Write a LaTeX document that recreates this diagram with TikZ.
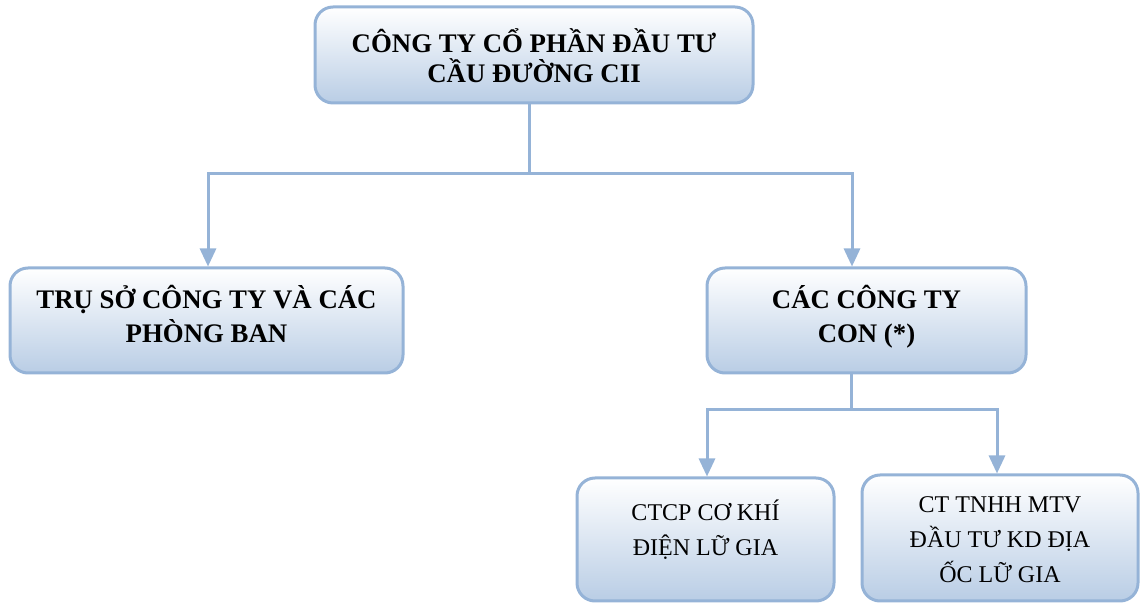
\documentclass[tikz,border=0pt]{standalone}
\usepackage{fontspec}
\setmainfont{Liberation Serif}
\usetikzlibrary{arrows.meta}
\definecolor{boxline}{RGB}{149,179,215}
\definecolor{boxfill}{RGB}{185,205,229}
\tikzset{
  unitbox/.style={draw=boxline,line width=1.5pt,rounded corners=9pt,top color=white,bottom color=boxfill,align=center,inner sep=0pt,text depth=0pt},
  bigtext/.style={font=\fontsize{13.4}{17}\selectfont\bfseries},
  smalltext/.style={font=\fontsize{12}{17.5}\selectfont},
  link/.style={draw=boxline,line width=1.5pt},
  conn/.style={link,-{Triangle[width=8pt,length=9pt]}}
}
\begin{document}
\begin{tikzpicture}[x=0.5pt,y=-0.5pt]
\useasboundingbox (0,0) rectangle (1141,603);
% cac don vi
\node[unitbox,font=\fontsize{13.4}{15}\selectfont\bfseries,minimum width=219pt,minimum height=48pt,text height=28pt] (congty) at (534,55) {CÔNG TY CỔ PHẦN ĐẦU TƯ\\CẦU ĐƯỜNG CII};
\node[unitbox,bigtext,minimum width=196.5pt,minimum height=52.5pt,text height=22.5pt] (truso) at (206.5,320.5) {TRỤ SỞ CÔNG TY VÀ CÁC\\PHÒNG BAN};
\node[unitbox,bigtext,minimum width=159.5pt,minimum height=52.5pt,text height=22.5pt] (congtycon) at (866.5,320.5) {CÁC CÔNG TY\\CON (*)};
\node[unitbox,smalltext,minimum width=128.5pt,minimum height=61.5pt,text height=16.5pt] (cokhi) at (705.5,539.5) {CTCP CƠ KHÍ\\ĐIỆN LỮ GIA};
\node[unitbox,smalltext,minimum width=138pt,minimum height=63pt,text height=45pt] (diaoc) at (1000,538) {CT TNHH MTV\\ĐẦU TƯ KD ĐỊA\\ỐC LỮ GIA};
% duong noi
\coordinate (hub) at (529,174);
\coordinate (subhub) at (851,410);
\draw[link] (congty.south -| hub) -- (hub);
\foreach \X/\N in {208/truso,852/congtycon}
  \draw[conn] (hub) -| (\N.north -| \X,0);
\draw[link] (congtycon.south -| subhub) -- (subhub);
\foreach \X/\N in {707/cokhi,997/diaoc}
  \draw[conn] (subhub) -| (\N.north -| \X,0);
\end{tikzpicture}
\end{document}
